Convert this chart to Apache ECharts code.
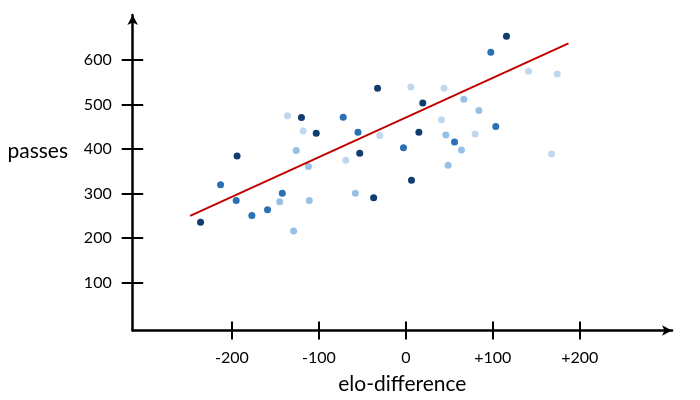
<!DOCTYPE html>
<html>
<head>
<meta charset="utf-8">
<script src="https://cdn.jsdelivr.net/npm/echarts@6/dist/echarts.min.js"></script>
<style>html,body{margin:0;padding:0;background:#fff}#c{width:700px;height:400px}</style>
</head>
<body>
<div id="c"></div>
<script>
var xTicks = [-200, -100, 0, 100, 200];
var yTicks = [100, 200, 300, 400, 500, 600];
var darkPts = [[-32.5,537],[19.5,504],[-120,471],[-103,436],[15,438],[-194,385],[-53,391],[6.5,330],[-37,291],[-236,236],[115.7,654]];
var midPts = [[-72,472],[-55,438],[-2.7,403],[-213,320],[-195,285],[-142,301],[-177,251],[-159,264],[97.7,618],[103.4,451],[56,416]];
var lightMidPts = [[-126,397],[-112,361],[-145,282],[-111,285],[-58,301],[-129,216],[66.7,512],[84,487],[46,432],[64,398],[48.6,364]];
var lightPts = [[5.7,540],[-136,475],[-118,441],[-30,431],[-69,375],[141,575],[174,569],[44,537],[41,466],[79.7,434],[167.5,389]];
var trendLine = [[-248,250],[187,638]];

var FONT = 'Lato';
var chart = echarts.init(document.getElementById('c'));
function fmtX(v){ v = Math.round(v); return v > 0 ? '+' + v : String(v); }
var XMIN = -314, XMAX = 306, YMIN = -7.4, YMAX = 701.6;
chart.setOption({
  animation: false,
  grid: {left: 132.7, right: 28, top: 15, bottom: 69.5, containLabel: false, outerBoundsMode: 'none'},
  xAxis: [{
    type: 'value', min: XMIN, max: XMAX, position: 'bottom',
    splitLine: {show: false},
    axisLine: {show: true, onZero: false, symbol: ['none','arrow'], symbolSize: [8,10], lineStyle: {color: '#000', width: 2.5}},
    axisTick: {show: true, length: 9, customValues: xTicks, lineStyle: {color: '#000', width: 2}},
    axisLabel: {customValues: xTicks, formatter: fmtX, margin: 19, fontSize: 16, color: '#000', fontFamily: FONT},
    name: 'elo-difference', nameLocation: 'middle', nameGap: 43,
    nameTextStyle: {fontSize: 21, color: '#000', fontFamily: FONT}
  },{
    type: 'value', min: XMIN, max: XMAX, position: 'bottom',
    splitLine: {show: false},
    axisLine: {show: false, onZero: false},
    axisTick: {show: true, inside: true, length: 9, customValues: xTicks, lineStyle: {color: '#000', width: 2}},
    axisLabel: {show: false}
  }],
  yAxis: [{
    type: 'value', min: YMIN, max: YMAX, position: 'left',
    splitLine: {show: false},
    axisLine: {show: true, onZero: false, symbol: ['none','arrow'], symbolSize: [8,10], lineStyle: {color: '#000', width: 2.5}},
    axisTick: {show: true, length: 11, customValues: yTicks, lineStyle: {color: '#000', width: 2}},
    axisLabel: {customValues: yTicks, margin: 21, fontSize: 16, color: '#000', fontFamily: FONT}
  },{
    type: 'value', min: YMIN, max: YMAX, position: 'left',
    splitLine: {show: false},
    axisLine: {show: false, onZero: false},
    axisTick: {show: true, inside: true, length: 10.5, customValues: yTicks, lineStyle: {color: '#000', width: 2}},
    axisLabel: {show: false}
  }],
  graphic: [{
    type: 'text', x: 68, y: 151,
    style: {text: 'passes', font: '21px ' + FONT, fill: '#000', align: 'right', verticalAlign: 'middle'}
  }],
  series: [
    {type: 'scatter', data: lightPts, symbolSize: 7, itemStyle: {color: '#bfd8ef', opacity: 1}},
    {type: 'scatter', data: lightMidPts, symbolSize: 7, itemStyle: {color: '#98c0e4', opacity: 1}},
    {type: 'scatter', data: midPts, symbolSize: 7, itemStyle: {color: '#2b70b4', opacity: 1}},
    {type: 'scatter', data: darkPts, symbolSize: 7, itemStyle: {color: '#0f3d6d', opacity: 1}},
    {type: 'line', data: trendLine, showSymbol: false, symbol: 'none', lineStyle: {color: '#c00000', width: 2}, z: 5}
  ]
});
</script>
</body>
</html>
